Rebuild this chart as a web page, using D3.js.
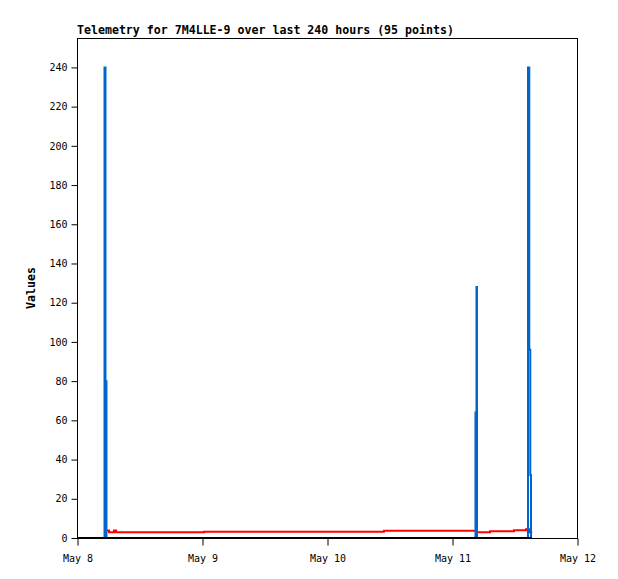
<!DOCTYPE html>
<html>
<head>
<meta charset="utf-8">
<script src="https://cdn.jsdelivr.net/npm/d3@7"></script>
<style>
  body { margin: 0; background: #fff; }
  svg { display: block; }
  text { font-family: "DejaVu Sans Mono", monospace; }
</style>
</head>
<body>
<svg id="chart" width="618" height="579"></svg>
<script>
// ---- data (hours after May 8 00:00 UTC) ----
const titleText = "Telemetry for 7M4LLE-9 over last 240 hours (95 points)";
const yLabel = "Values";
const yTicks = [0, 20, 40, 60, 80, 100, 120, 140, 160, 180, 200, 220, 240];
const xTickLabels = ["May 8", "May 9", "May 10", "May 11", "May 12"];

const blueHours  = [5.20, 5.28, 5.47, 5.66, 76.30, 76.51, 76.70, 76.80, 86.40, 86.59, 86.84, 87.03, 87.17];
const blueValues = [0,    240,  80,   0,    0,     64,    128,   0,     0,     240,   96,    32,    0];

const redHours  = [5.76, 6.14, 7.10, 7.50, 24.38, 58.94, 76.60, 79.30, 83.90, 86.20, 86.90, 87.40];
const redValues = [3.8,  2.9,  3.8,  2.9,  3.2,   3.7,   2.9,   3.4,   3.9,   4.4,   2.9,   2.9];

const blackHours  = [0, 87.3];
const blackValues = [0, 0];

// ---- layout ----
const margin = {left: 77, top: 38, right: 41, bottom: 41};
const W = 618, H = 579;
const iw = W - margin.left - margin.right;
const ih = H - margin.top - margin.bottom;
const base = Date.UTC(2024, 4, 8);
const toDate = h => new Date(base + h * 3600 * 1000);

const svg = d3.select("#chart");
const g = svg.append("g").attr("transform", `translate(${margin.left},${margin.top})`);

const x = d3.scaleUtc().domain([toDate(0), toDate(96)]).range([0, iw]);
const y = d3.scaleLinear().domain([0, 255]).range([ih, 0]);

// frame
g.append("rect").attr("x", 0.5).attr("y", 0.5).attr("width", iw).attr("height", ih)
  .attr("fill", "none").attr("stroke", "#000").attr("stroke-width", 1);

// y axis
const yAxis = d3.axisLeft(y).tickValues(yTicks).tickSize(6).tickPadding(4);
const ya = g.append("g").attr("transform", "translate(0.5,0)").call(yAxis);
ya.select(".domain").remove();
ya.selectAll("text").attr("font-size", "10px").attr("font-family", "DejaVu Sans Mono, monospace").attr("fill", "#000");
ya.selectAll("line").attr("stroke", "#000");

// x axis
const xTickDates = xTickLabels.map((_, i) => toDate(i * 24));
const xAxis = d3.axisBottom(x).tickValues(xTickDates)
  .tickFormat((d, i) => xTickLabels[i]).tickSize(7).tickPadding(9);
const xa = g.append("g").attr("transform", `translate(0.5,${ih + 0.5})`).call(xAxis);
xa.select(".domain").remove();
xa.selectAll("text").attr("font-size", "10px").attr("font-family", "DejaVu Sans Mono, monospace").attr("fill", "#000");
xa.selectAll("line").attr("stroke", "#000");

// series
const mk = (hs, vs) => hs.map((h, i) => ({t: toDate(h), v: vs[i]}));
const lineLin = d3.line().x(d => x(d.t)).y(d => y(d.v));
const lineStep = d3.line().x(d => x(d.t)).y(d => y(d.v)).curve(d3.curveStepAfter);

g.append("path").datum(mk(redHours, redValues)).attr("d", lineStep)
  .attr("fill", "none").attr("stroke", "#ff0000").attr("stroke-width", 2);
g.append("path").datum(mk(blueHours, blueValues)).attr("d", lineStep)
  .attr("fill", "none").attr("stroke", "#0066cc").attr("stroke-width", 2);
g.append("path").datum(mk(blackHours, blackValues)).attr("d", lineLin)
  .attr("fill", "none").attr("stroke", "#000").attr("stroke-width", 2);

// title
svg.append("text").attr("x", 77).attr("y", 34).attr("font-size", "11.6px").attr("font-weight", "bold")
  .attr("fill", "#000").text(titleText);

// y label
svg.append("text").attr("transform", `translate(35,${margin.top + ih / 2}) rotate(-90)`)
  .attr("text-anchor", "middle").attr("font-size", "11.6px").attr("font-weight", "bold")
  .attr("fill", "#000").text(yLabel);
</script>
</body>
</html>
